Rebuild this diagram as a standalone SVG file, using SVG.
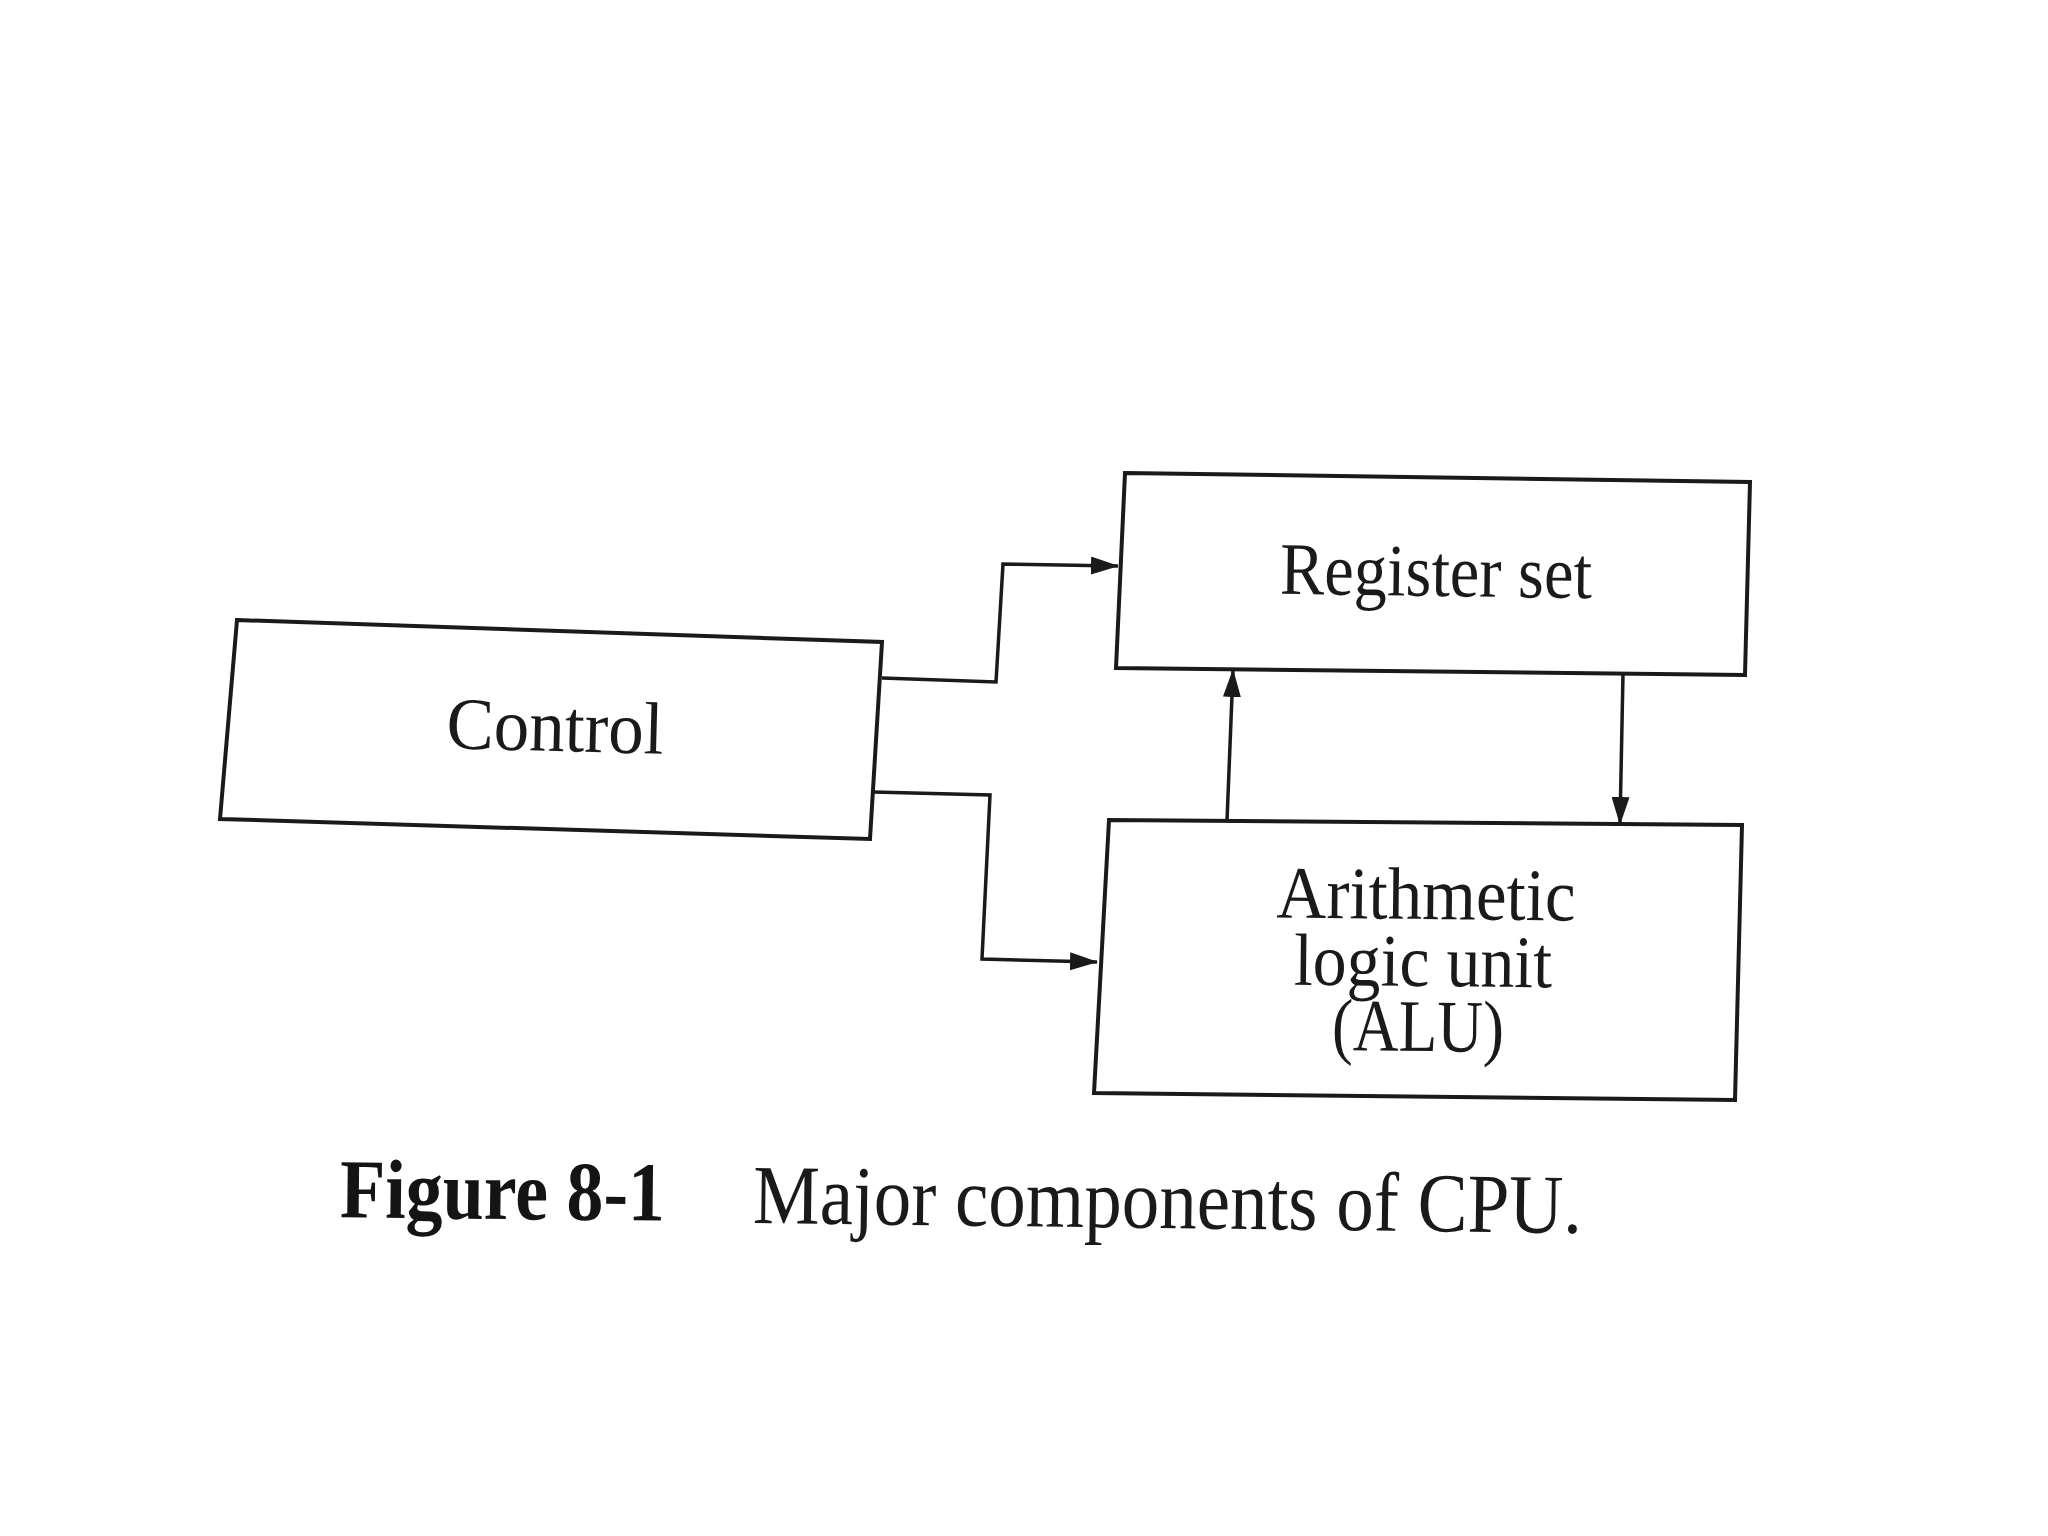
<svg xmlns="http://www.w3.org/2000/svg" width="2048" height="1536" viewBox="0 0 2048 1536">
  <style>
    .box { fill: #ffffff; stroke: #1a1a1a; stroke-width: 4; stroke-linejoin: miter; }
    .wire { fill: none; stroke: #1a1a1a; stroke-width: 3.5; stroke-linejoin: miter; }
    .label { font-family: "Liberation Serif", "Times New Roman", serif; font-size: 74px; fill: #1a1a1a; text-anchor: middle; }
    .capb { font-family: "Liberation Serif", "Times New Roman", serif; font-size: 84px; font-weight: bold; fill: #141414; }
    .capr { font-family: "Liberation Serif", "Times New Roman", serif; font-size: 84px; fill: #1a1a1a; }
  </style>
  <defs>
    <marker id="arrow" viewBox="0 0 28 18" refX="27" refY="9" markerWidth="28" markerHeight="18" markerUnits="userSpaceOnUse" orient="auto">
      <path d="M0,0 L28,9 L0,18 Z" fill="#1a1a1a"/>
    </marker>
  </defs>

  <rect x="0" y="0" width="2048" height="1536" fill="#ffffff"/>

  <g id="node-control">
    <polygon class="box" points="237,620 882,642 870,839 220,819"/>
    <text class="label" x="555" y="751" textLength="217" lengthAdjust="spacingAndGlyphs" transform="rotate(1.5 555 730)">Control</text>
  </g>

  <g id="node-register">
    <polygon class="box" points="1125,473 1750,482 1745,675 1116,668"/>
    <text class="label" x="1436" y="596" textLength="312" lengthAdjust="spacingAndGlyphs" transform="rotate(0.8 1436 575)">Register set</text>
  </g>

  <g id="node-alu">
    <polygon class="box" points="1109,820 1742,825 1735,1100 1094,1093"/>
    <text class="label" x="1426" y="919" textLength="299" lengthAdjust="spacingAndGlyphs" transform="rotate(0.6 1426 900)">Arithmetic</text>
    <text class="label" x="1423" y="986" textLength="258" lengthAdjust="spacingAndGlyphs" transform="rotate(0.6 1423 965)">logic unit</text>
    <text class="label" x="1418" y="1051" textLength="172" lengthAdjust="spacingAndGlyphs" transform="rotate(0.6 1418 1030)">(ALU)</text>
  </g>

  <g id="connectors">
    <path class="wire" d="M882,678 L996,682 L1003,564 L1118,566" marker-end="url(#arrow)"/>
    <path class="wire" d="M873,792 L990,795 L982,959 L1097,962" marker-end="url(#arrow)"/>
    <path class="wire" d="M1227,821 L1233,670" marker-end="url(#arrow)"/>
    <path class="wire" d="M1623,674 L1620,824" marker-end="url(#arrow)"/>
  </g>

  <g id="caption">
    <text class="capb" x="340" y="1219" textLength="325" lengthAdjust="spacingAndGlyphs" transform="rotate(0.6 500 1200)">Figure 8-1</text>
    <text class="capr" x="753" y="1228" textLength="829" lengthAdjust="spacingAndGlyphs" transform="rotate(0.7 1165 1210)">Major components of CPU.</text>
  </g>
</svg>
